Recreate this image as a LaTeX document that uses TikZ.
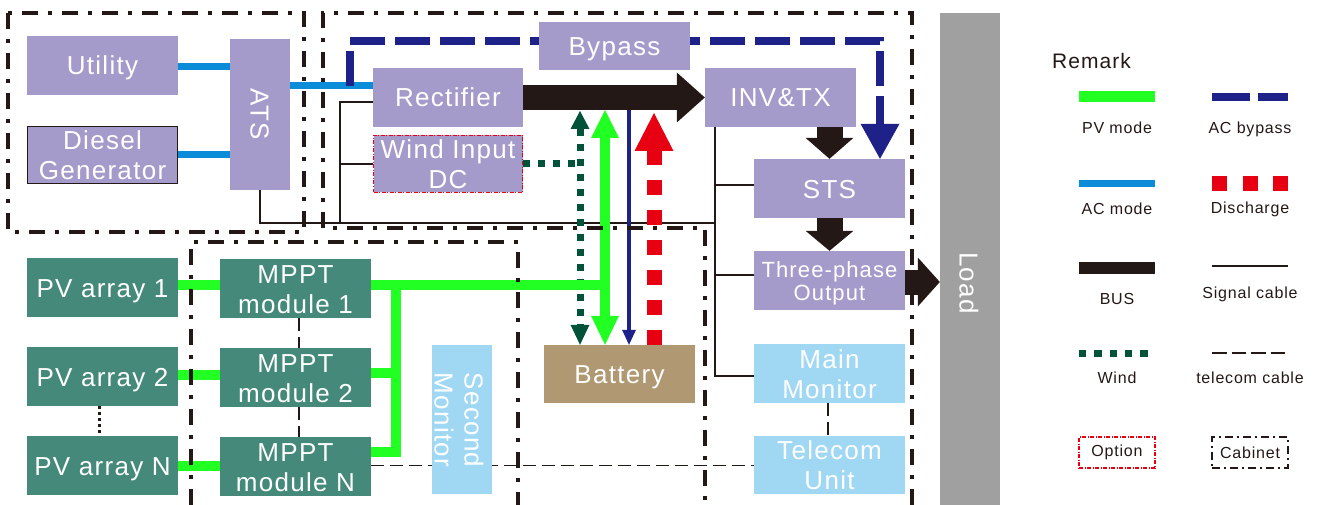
\documentclass[tikz,border=0pt]{standalone}
\usepackage{fontspec}
\setmainfont[LetterSpace=5]{Liberation Sans}
\usetikzlibrary{arrows.meta,backgrounds}
\definecolor{cLav}{HTML}{A59BCB}
\definecolor{cTeal}{HTML}{45897A}
\definecolor{cSky}{HTML}{A0D8F4}
\definecolor{cTan}{HTML}{B09872}
\definecolor{cGray}{HTML}{A0A0A0}
\definecolor{cPV}{HTML}{22FF22}
\definecolor{cAC}{HTML}{0A8CD8}
\definecolor{cNavy}{HTML}{1E2187}
\definecolor{cBus}{HTML}{231815}
\definecolor{cRed}{HTML}{E60012}
\definecolor{cWind}{HTML}{005239}
\begin{document}
\begin{tikzpicture}[x=1pt,y=-1pt,
  boxbase/.style={inner sep=0pt, text=white, align=center, font=\fontsize{26}{30}\selectfont},
  oneline/.style={text height=19pt, text depth=0pt},
  twoline/.style={text height=49pt, text depth=0pt},
  lavbox/.style={boxbase, fill=cLav},
  tealbox/.style={boxbase, fill=cTeal},
  skybox/.style={boxbase, fill=cSky},
  sz/.style 2 args={minimum width=#1, minimum height=#2},
  rottext/.style={rotate=-90, text=white, align=center, inner sep=0pt, font=\fontsize{26}{30}\selectfont},
  cabinet/.style={draw=cBus, line width=3.5pt, dash pattern=on 16pt off 10pt on 4pt off 10pt},
  acline/.style={draw=cAC, line width=7pt},
  pvline/.style={draw=cPV, line width=10pt},
  signal/.style={draw=cBus, line width=1.3pt},
  telecable/.style={draw=cBus, line width=1.3pt, dash pattern=on 13pt off 6pt},
  bypassline/.style={draw=cNavy, line width=8pt, dash pattern=on 35pt off 10pt},
  busline/.style={draw=cBus, line width=25pt},
  windline/.style={draw=cWind, line width=7pt, dash pattern=on 7pt off 8pt},
  navyline/.style={draw=cNavy, line width=3.5pt},
  discharge/.style={draw=cRed, line width=15pt, dash pattern=on 15pt off 15pt},
  pvdots/.style={draw=cBus, line width=3pt, dash pattern=on 3pt off 3pt},
  legtext/.style={text=cBus, inner sep=0pt, font=\fontsize{16}{18}\selectfont},
  optbox/.style={draw=cRed, line width=1.2pt, dash pattern=on 4pt off 1.5pt on 1pt off 1.5pt},
  cabbox/.style={draw=cBus, line width=1.8pt, dash pattern=on 8pt off 4pt on 2pt off 4pt},
]
\useasboundingbox (0,0) rectangle (1319,505);

% ---------- nodes ----------
\node[lavbox, oneline, sz={151}{59}] (utility) at (102.5,65.5) {Utility};
\node[lavbox, twoline, sz={150}{57}, draw=cBus, line width=1.3pt] (diesel) at (102.5,155) {Diesel\\Generator};
\node[lavbox, sz={60}{151}] (ats) at (260,114.5) {};
\node[rottext, oneline] (atstxt) at (260,114.5) {ATS};
\node[lavbox, oneline, sz={150}{59}] (rect) at (448,97.5) {Rectifier};
\node[lavbox, twoline, sz={149}{57}, optbox] (wind) at (448,164) {Wind Input\\DC};
\node[lavbox, oneline, sz={151}{48}] (bypass) at (614.5,46) {Bypass};
\node[lavbox, oneline, sz={151}{59}] (inv) at (780.5,97.5) {INV\&TX};
\node[lavbox, oneline, sz={151}{59}] (sts) at (829.5,188.5) {STS};
\node[lavbox, sz={151}{59}, font=\fontsize{22}{23}\selectfont, text height=39pt, text depth=0pt] (three) at (829.5,280.5) {Three-phase\\Output};
\node[skybox, twoline, sz={151}{59}] (mainmon) at (829.5,373.5) {Main\\Monitor};
\node[skybox, twoline, sz={151}{58}] (telecom) at (829.5,465) {Telecom\\Unit};
\node[fill=cGray, inner sep=0pt, sz={60}{492}] (load) at (970,259) {};
\node[rottext, oneline] (loadtxt) at (969,283) {Load};
\node[tealbox, oneline, sz={151}{59}] (pv1) at (102.5,287.5) {PV array 1};
\node[tealbox, oneline, sz={151}{59}] (pv2) at (102.5,376.5) {PV array 2};
\node[tealbox, oneline, sz={151}{59}] (pvn) at (102.5,465.5) {PV array N};
\node[tealbox, twoline, sz={151}{59}] (mppt1) at (295.5,288.5) {MPPT\\module 1};
\node[tealbox, twoline, sz={151}{59}] (mppt2) at (295.5,377.5) {MPPT\\module 2};
\node[tealbox, twoline, sz={151}{59}] (mpptn) at (295.5,466.5) {MPPT\\module N};
\node[skybox, sz={60}{149}] (second) at (462,419.5) {};
\node[rottext, twoline] (secondtxt) at (459,420) {Second\\Monitor};
\node[boxbase, oneline, fill=cTan, sz={151}{58}] (battery) at (619.5,374) {Battery};

% ---------- helper coordinates ----------
\coordinate (sigA) at (340,223);
\coordinate (sigB) at (715,223);
\coordinate (acR) at ([yshift=11.5pt]rect.west);
\coordinate (bpS) at (350,86);
\coordinate (bpC) at (350,41);
\coordinate (bpD) at (880,41);
\coordinate (gTop) at (605,110);
\coordinate (col) at (396,285);
\coordinate (wTop) at (580,111);
\coordinate (nTop) at (629,110);
\coordinate (rTop) at (654,113);

% ---------- connectors ----------
\begin{pgfonlayer}{background}
\draw[signal] ([yshift=-4.5pt]rect.west) -| (sigA) -- (sigB);
\draw[signal] (wind.west) -- (wind.west -| sigA);
\draw[signal] (ats.south) |- (sigA);
\draw[signal] (inv.south -| sigB) |- ([yshift=-2.5pt]mainmon.west);
\draw[signal] ([yshift=3.5pt]sts.west) -- ([yshift=3.5pt]sts.west -| sigB);
\draw[signal] ([yshift=5.5pt]three.west) -- ([yshift=5.5pt]three.west -| sigB);

\draw[acline] ([yshift=-1.5pt]utility.east) -- ([yshift=-1.5pt]utility.east -| ats.west);
\draw[acline] (diesel.east) -- (diesel.east -| ats.west);
\draw[acline] (acR -| ats.east) -- (acR);

\draw[bypassline, -{Triangle[length=35pt,width=39pt,line width=0pt]}] (bpS) -- (bpC) -- (bpD) -- (bpD |- sts.north);

\draw[busline, -{Triangle[length=28pt,width=50pt,line width=0pt]}] (rect.east) -- (inv.west);
\draw[draw=cBus, line width=26pt, -{Triangle[length=21pt,width=48pt,line width=0pt]}] (inv.south -| sts.north) -- (sts.north);
\draw[draw=cBus, line width=26pt, -{Triangle[length=20pt,width=48pt,line width=0pt]}] (sts.south) -- (three.north);
\draw[busline, -{Triangle[length=22pt,width=49pt,line width=0pt]}] ([yshift=-1.5pt]three.east) -- ([yshift=-1.5pt]three.east -| load.west);

\draw[windline] (wind.east) -- (wind.east -| wTop);
\draw[windline, {Triangle[length=18pt,width=19pt,line width=0pt]}-{Triangle[length=20pt,width=19pt,line width=0pt]}] (wTop) -- (wTop |- battery.north);

\draw[pvline, {Triangle[length=28pt,width=28pt,line width=0pt]}-{Triangle[length=29pt,width=28pt,line width=0pt]}] (gTop) -- (gTop |- battery.north);
\draw[navyline, -{Triangle[length=15pt,width=14pt,line width=0pt]}] (nTop) -- (nTop |- battery.north);
\draw[discharge, -{Triangle[length=38pt,width=39pt,line width=0pt]}] (rTop |- battery.north) -- (rTop);

\draw[pvline] ([yshift=3.5pt]mppt1.east) -- ([yshift=3.5pt]mppt1.east -| gTop);
\draw[pvline] ([yshift=14.5pt]mpptn.east) -| (col);
\draw[pvline] ([yshift=4.5pt]mppt2.east) -- ([yshift=4.5pt]mppt2.east -| col);
\draw[pvline] ([yshift=2.5pt]pv1.east) -- ([yshift=3.5pt]mppt1.west);
\draw[pvline] ([yshift=1.5pt]pv2.east) -- ([yshift=2.5pt]mppt2.west);
\draw[pvline] (pvn.east) -- ([yshift=1pt]mpptn.west);

\draw[telecable] ([yshift=1pt]mpptn.east) -- ([yshift=1pt]mpptn.east -| telecom.west);
\draw[telecable] ([xshift=-1.5pt]mainmon.south) -- ([xshift=-1.5pt]telecom.north);
\draw[telecable] ([xshift=3.5pt]mppt1.south) -- ([xshift=3.5pt]mppt2.north);
\draw[telecable] ([xshift=3.5pt]mppt2.south) -- ([xshift=3.5pt]mpptn.north);
\draw[pvdots] ([xshift=-3.5pt]pv2.south) -- ([xshift=-3.5pt]pvn.north);
\end{pgfonlayer}

% ---------- cabinets ----------
\draw[cabinet] (8,13) rectangle (304,232);
\draw[cabinet] (912,505) -- (912,13) -- (323,13) -- (323,228) -- (705,228) -- (705,505);
\draw[cabinet] (191,505) -- (191,242) -- (518,242) -- (518,505);

% ---------- legend ----------
\node[text=cBus, inner sep=0pt, anchor=west, font=\fontsize{21}{24}\selectfont] (remark) at (1052,61) {Remark};
\coordinate (lA1) at (1079,97);  \coordinate (lB1) at (1155,97);
\coordinate (rA1) at (1212,97);  \coordinate (rB1) at (1288,97);
\draw[pvline, line width=11pt] (lA1) -- (lB1);
\draw[draw=cNavy, line width=8pt, dash pattern=on 38pt off 8pt] (rA1) -- (rB1);
\node[legtext] (lt1) at (1117,128) {PV mode};
\node[legtext] (rt1) at (1250,129) {AC bypass};

\coordinate (lA2) at (1079,184);  \coordinate (lB2) at (1155,184);
\coordinate (rA2) at (1212,184);  \coordinate (rB2) at (1288,184);
\draw[acline] (lA2) -- (lB2);
\draw[draw=cRed, line width=15pt, dash pattern=on 15pt off 15.5pt] (rA2) -- (rB2);
\node[legtext] (lt2) at (1117,209) {AC mode};
\node[legtext] (rt2) at (1250,209) {Discharge};

\coordinate (lA3) at (1079,268);  \coordinate (lB3) at (1155,268);
\coordinate (rA3) at (1212,266);  \coordinate (rB3) at (1288,266);
\draw[draw=cBus, line width=12pt] (lA3) -- (lB3);
\draw[signal] (rA3) -- (rB3);
\node[legtext] (lt3) at (1117,299) {BUS};
\node[legtext] (rt3) at (1250,294) {Signal cable};

\coordinate (lA4) at (1079,353);  \coordinate (lB4) at (1155,353);
\coordinate (rA4) at (1212,353);  \coordinate (rB4) at (1288,353);
\draw[draw=cWind, line width=7pt, dash pattern=on 7.3pt off 8pt] (lA4) -- (lB4);
\draw[draw=cBus, line width=1.3pt, dash pattern=on 14.5pt off 5pt] (rA4) -- (rB4);
\node[legtext] (lt4) at (1117,378) {Wind};
\node[legtext] (rt4) at (1250,378) {telecom cable};

\node[legtext, optbox, sz={76}{31}] (optleg) at (1117,452.5) {Option};
\node[legtext, cabbox, sz={76}{31}] (cableg) at (1250,452.5) {Cabinet};
\end{tikzpicture}
\end{document}
